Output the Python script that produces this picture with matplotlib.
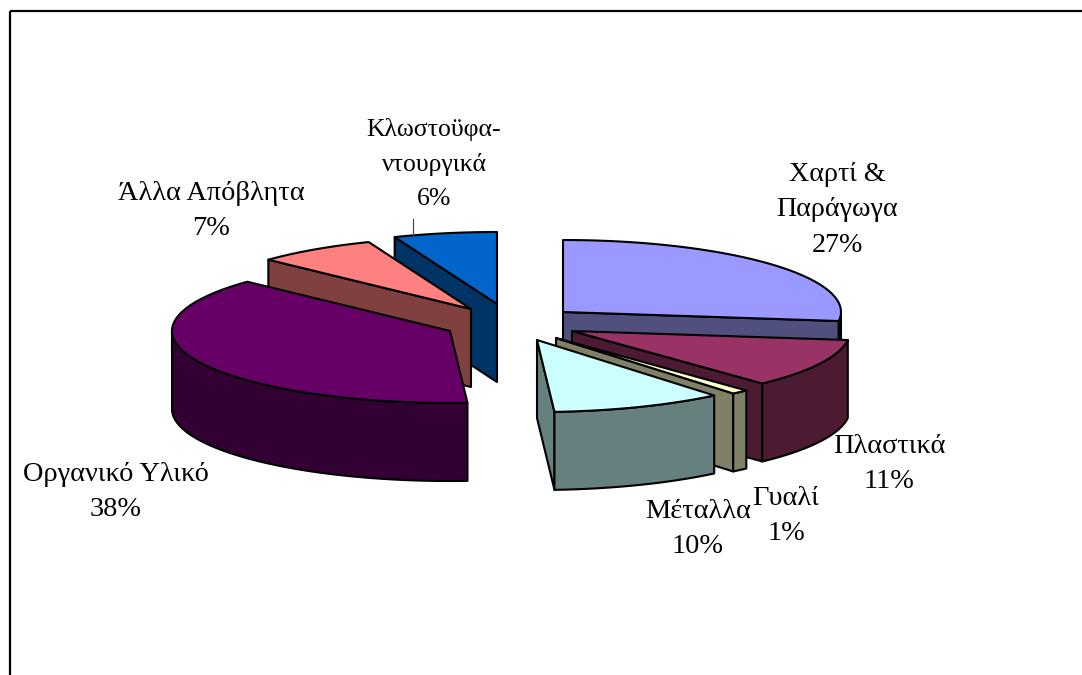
import numpy as np
import matplotlib
matplotlib.use("Agg")
import matplotlib.pyplot as plt

# Data, clockwise from 12 o'clock
labels = ["Χαρτί &\nΠαράγωγα", "Πλαστικά", "Γυαλί", "Μέταλλα",
          "Οργανικό Υλικό", "Άλλα Απόβλητα", "Κλωστοϋφα-\nντουργικά"]
values = [27, 11, 1, 10, 38, 7, 6]

top_colors = ["#9999FF", "#993366", "#FFFFCC", "#CCFFFF", "#660066", "#FF8080", "#0066CC"]
side_colors = ["#50507F", "#4D1A33", "#808066", "#668080", "#330033", "#804040", "#003366"]

# how far each slice is pulled out of the pie (px)
explode_x = [38, 47, 31, 12, -75, -54, -28]
explode_y = [-15, 4, 11, 13, 4, -18, -23]

# where the labels sit (centre of the text block, px)
label_x = [837, 889, 786, 698, 116, 211, 434]
label_y = [210, 464, 516, 529, 492, 211, 164]
label_size = [20.2, 20.4, 20.4, 20.4, 20.4, 20.4, 18.5]
label_spacing = [1.55, 1.5, 1.5, 1.5, 1.5, 1.5, 1.7]

cx, cy = 525, 327
rx, ry = 278, 72
depth = 78

# back slices first, front ones painted over them
draw_order = [6, 5, 4, 0, 1, 2, 3]


def rim(a1, a2, x0, y0):
    t = np.radians(np.linspace(a1, a2, max(int(abs(a2 - a1)) * 2, 2)))
    return x0 + rx * np.sin(t), y0 - ry * np.cos(t)


fig = plt.figure(figsize=(10.82, 6.75), dpi=100)
ax = fig.add_axes([0, 0, 1, 1])
ax.set_xlim(0, 1082)
ax.set_ylim(675, 0)
ax.axis("off")

# frame, only top and left are in the picture
ax.plot([9.5, 1082], [11, 11], color="black", lw=1.6, solid_capstyle="butt")
ax.plot([9.5, 9.5], [11, 675], color="black", lw=1.6, solid_capstyle="butt")

ends = np.cumsum(values) / sum(values) * 360
starts = np.r_[0, ends[:-1]]

for z, i in enumerate(draw_order):
    a1, a2 = starts[i], ends[i]
    x0, y0 = cx + explode_x[i], cy + explode_y[i]
    style = dict(edgecolor="black", lw=1.5, joinstyle="round", zorder=z + 2)

    # flat walls of the cut, only the ones turned towards us
    walls = []
    if np.sin(np.radians(a1)) < -1e-6:
        walls.append(a1)
    if np.sin(np.radians(a2)) > 1e-6:
        walls.append(a2)
    for a in walls:
        px, py = rim(a, a, x0, y0)
        ax.fill([x0, px[0], px[0], x0], [y0, py[0], py[0] + depth, y0 + depth],
                facecolor=side_colors[i], **style)

    # outer wall, only the part facing us
    lo, hi = max(a1, 90), min(a2, 270)
    if hi > lo:
        px, py = rim(lo, hi, x0, y0)
        ax.fill(np.r_[px, px[::-1]], np.r_[py, py[::-1] + depth],
                facecolor=side_colors[i], **style)

    # top
    px, py = rim(a1, a2, x0, y0)
    ax.fill(np.r_[x0, px], np.r_[y0, py], facecolor=top_colors[i], **style)

for i in range(len(values)):
    ax.text(label_x[i], label_y[i], f"{labels[i]}\n{values[i]}%", ha="center", va="center",
            family="Liberation Serif", fontsize=label_size[i], linespacing=label_spacing[i],
            color="black", zorder=20)

# leader line of the textile label
ax.plot([413, 413], [219, 236], color="#404040", lw=0.8, zorder=20)

fig.savefig("out.png", dpi=100)
